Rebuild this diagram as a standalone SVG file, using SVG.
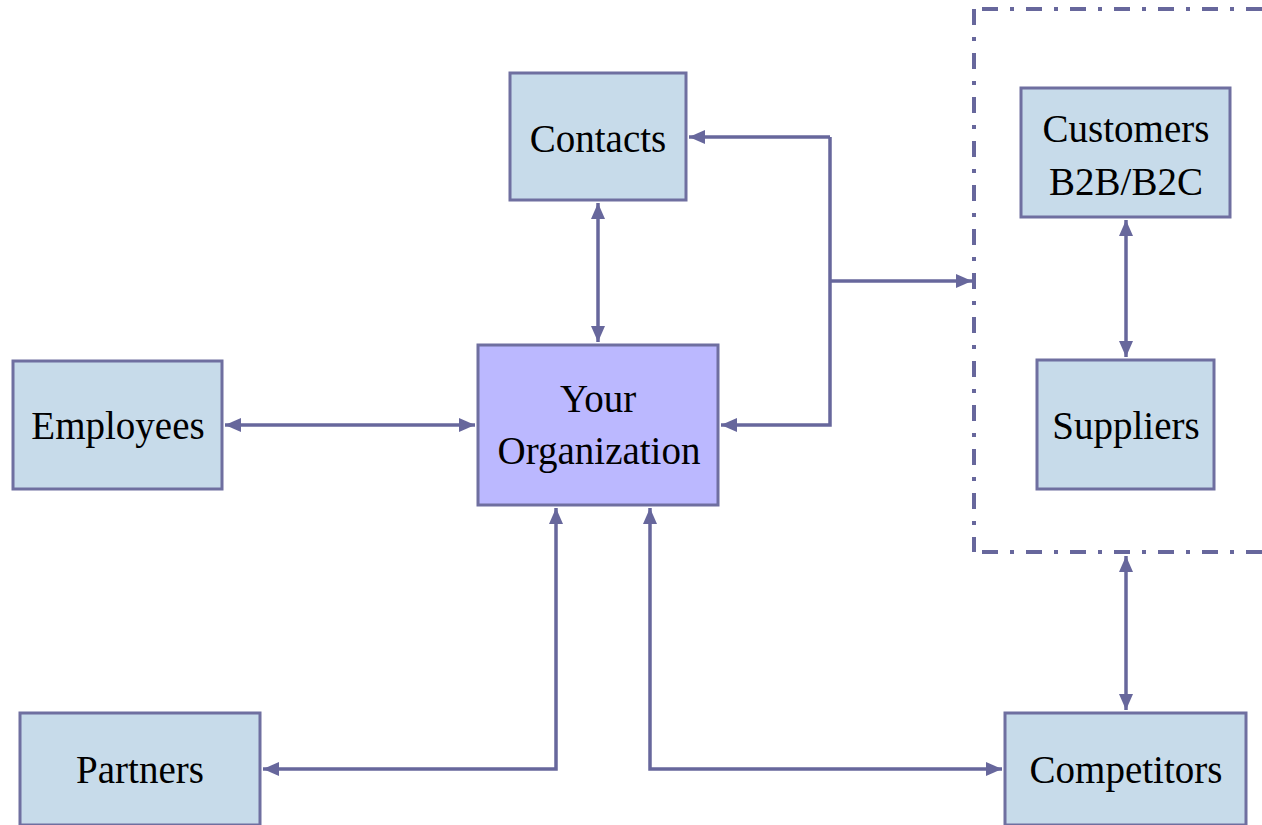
<svg xmlns="http://www.w3.org/2000/svg" width="1262" height="825" viewBox="0 0 1262 825">
<defs>
<marker id="ah" viewBox="0 0 16 14" refX="16" refY="7" markerWidth="16" markerHeight="14" markerUnits="userSpaceOnUse" orient="auto-start-reverse">
<path d="M0,0 L16,7 L0,14 Z" fill="#67679c"/>
</marker>
</defs>
<style>
.box{fill:#c7dbea;stroke:#6f6fa0;stroke-width:3}
.org{fill:#bbb8ff;stroke:#6f6fa0;stroke-width:3}
.t{font-size:39px;fill:#000;text-anchor:middle}
.c{fill:none;stroke:#67679c;stroke-width:3.5}
.dd{fill:none;stroke:#67679c;stroke-width:4;stroke-dasharray:16 12 4 12}
</style>
<rect width="1262" height="825" fill="#fff"/>
<g font-family="'Liberation Serif', 'Times New Roman', serif">
<g id="container">
<path class="dd" d="M974,9 L974,552"/>
<path class="dd" d="M982,9 L1262,9"/>
<path class="dd" d="M982,552 L1262,552"/>
</g>
<g id="contacts"><rect class="box" x="510" y="73" width="176" height="127"/><text class="t" x="598" y="152">Contacts</text></g>
<g id="org"><rect class="org" x="478" y="345" width="240" height="160"/><text class="t" x="598" y="412">Your</text><text class="t" x="599" y="464">Organization</text></g>
<g id="employees"><rect class="box" x="13" y="361" width="209" height="128"/><text class="t" x="118" y="439">Employees</text></g>
<g id="partners"><rect class="box" x="20" y="713" width="240" height="112"/><text class="t" x="140" y="783">Partners</text></g>
<g id="competitors"><rect class="box" x="1005" y="713" width="241" height="112"/><text class="t" x="1126" y="783">Competitors</text></g>
<g id="customers"><rect class="box" x="1021" y="88" width="209" height="129"/><text class="t" x="1126" y="142">Customers</text><text class="t" x="1126" y="195">B2B/B2C</text></g>
<g id="suppliers"><rect class="box" x="1037" y="360" width="177" height="129"/><text class="t" x="1126" y="439">Suppliers</text></g>
</g>
<g id="connectors">
<path class="c" d="M598,203 L598,342" marker-start="url(#ah)" marker-end="url(#ah)"/>
<path class="c" d="M830,137 L689,137" marker-end="url(#ah)"/>
<path class="c" d="M830,137 L830,425 L721,425" marker-end="url(#ah)"/>
<path class="c" d="M830,281 L972,281" marker-end="url(#ah)"/>
<path class="c" d="M225,425 L475,425" marker-start="url(#ah)" marker-end="url(#ah)"/>
<path class="c" d="M263,769 L556,769 L556,508" marker-start="url(#ah)" marker-end="url(#ah)"/>
<path class="c" d="M650,508 L650,769 L1002,769" marker-start="url(#ah)" marker-end="url(#ah)"/>
<path class="c" d="M1126,220 L1126,357" marker-start="url(#ah)" marker-end="url(#ah)"/>
<path class="c" d="M1126,556 L1126,710" marker-start="url(#ah)" marker-end="url(#ah)"/>
</g>
</svg>
